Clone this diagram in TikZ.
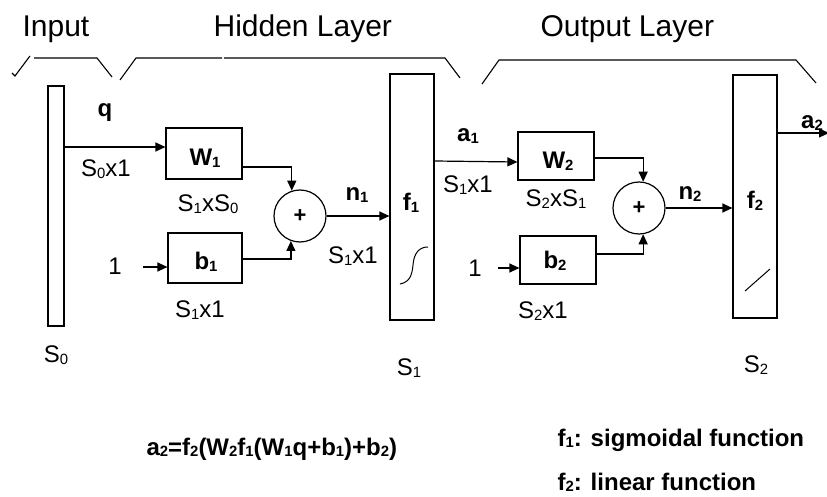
\documentclass[tikz,border=0pt]{standalone}
\usepackage{fontspec}
\usepackage{graphicx}
\setmainfont{Liberation Sans}
\usetikzlibrary{arrows.meta}
\newcommand\sbx[1]{\raisebox{-1.5pt}{\scalebox{0.62}{#1}}}
\begin{document}
\begin{tikzpicture}[x=1pt,y=-1pt,line width=1.2pt,
  bar/.style={draw,inner sep=0pt},
  box/.style={draw,inner sep=0pt},
  sumnode/.style={draw,circle,inner sep=0pt,minimum size=52pt,font=\bfseries\fontsize{22}{26}\selectfont},
  lbl/.style={inner sep=0pt,font=\fontsize{24}{28}\selectfont},
  blbl/.style={inner sep=0pt,font=\bfseries\fontsize{24}{28}\selectfont},
  ttl/.style={inner sep=0pt,anchor=base west,font=\fontsize{30}{36}\selectfont},
  eqn/.style={inner sep=0pt,anchor=base west,font=\bfseries\fontsize{24}{28}\selectfont},
  arr/.style={-{Triangle[length=10pt,width=9pt]}},
  brk/.style={line width=1.1pt}]
\useasboundingbox (0,0) rectangle (827,497);

% titles
\node[ttl] (tin) at (22,37) {Input};
\node[ttl] (thid) at (213,37) {Hidden Layer};
\node[ttl] (tout) at (540,37) {Output Layer};

% brackets
\draw[brk] (12,73) -- (15,76) -- (30,56);
\draw[brk] (34,58) -- (97,58) -- (112,77);
\draw[brk] (120,80) -- (136,58) -- (222,58);
\draw[brk] (224,58) -- (445,58) -- (460,78);
\draw[brk] (482,84) -- (499,60) -- (796,60) -- (816,83);

% bars
\node[bar,minimum width=16pt,minimum height=240pt] (inbar) at (56,206) {};
\node[bar,minimum width=44pt,minimum height=246pt] (f1bar) at (412,197) {};
\node[bar,minimum width=44pt,minimum height=243pt] (f2bar) at (755,196.5) {};

% boxes
\node[box,minimum width=76pt,minimum height=51pt] (W1) at (204,153.5) {};
\node[box,minimum width=74pt,minimum height=50pt] (b1) at (205,258) {};
\node[box,minimum width=76pt,minimum height=48pt] (W2) at (556,156) {};
\node[box,minimum width=76pt,minimum height=48pt] (b2) at (558,260) {};
\node[blbl] (W1t) at (205,158) {W\sbx{1}};
\node[blbl] (b1t) at (206,262) {b\sbx{1}};
\node[blbl] (W2t) at (558,161) {W\sbx{2}};
\node[blbl] (b2t) at (555,261) {b\sbx{2}};

% summing junctions
\node[sumnode] (sum1) at (300,216) {+};
\node[sumnode] (sum2) at (639,208) {+};

% transfer function icons
\draw[line width=1pt] (400,284) .. controls (410,282) and (412,275) .. (413,265)
  .. controls (414,252) and (420,247) .. (428,247);
\draw[line width=1pt] (745,291) -- (770,269);

% labels
\node[blbl] (q) at (105,113) {q};
\node[lbl] (s0x1) at (106,169) {S\sbx{0}x1};
\node[lbl] (s1xs0) at (208,204) {S\sbx{1}xS\sbx{0}};
\node[lbl] (one1) at (115,266) {1};
\node[lbl] (s1x1a) at (200,310) {S\sbx{1}x1};
\node[blbl] (n1) at (357,195) {n\sbx{1}};
\node[lbl] (s1x1b) at (353,256) {S\sbx{1}x1};
\node[blbl] (f1) at (411,203) {f\sbx{1}};
\node[blbl] (a1) at (468,136) {a\sbx{1}};
\node[lbl] (s1x1c) at (468,185) {S\sbx{1}x1};
\node[lbl] (s2xs1) at (556,199) {S\sbx{2}xS\sbx{1}};
\node[lbl] (one2) at (475,268) {1};
\node[lbl] (s2x1) at (543,311) {S\sbx{2}x1};
\node[blbl] (n2) at (690,194) {n\sbx{2}};
\node[blbl] (f2) at (755,201) {f\sbx{2}};
\node[blbl] (a2) at (812,123) {a\sbx{2}};
\node[lbl] (S0) at (56,355) {S\sbx{0}};
\node[lbl] (S1) at (409,368) {S\sbx{1}};
\node[lbl] (S2) at (756,365) {S\sbx{2}};

% connectors
\coordinate (o1s) at (143,267);
\coordinate (o2s) at (498,268);
\coordinate (a2end) at (829,133);
\draw[arr] (inbar.east |- 0,147) -- (W1.west |- 0,147);
\draw[arr] (W1.east |- 0,167) -| (sum1.108);
\draw[arr] (b1.east |- 0,259) -| (sum1.250);
\draw[arr] (o1s) -- (b1.west |- o1s);
\draw[arr] (sum1.east) -- (f1bar.west |- sum1.east);
\draw[arr] (f1bar.east |- 0,161) -- (W2.west |- 0,162);
\draw[arr] (W2.east |- 0,158) -| (sum2.81);
\draw[arr] (b2.east |- 0,254) -| (sum2.279);
\draw[arr] (o2s) -- (b2.west |- o2s);
\draw[arr] (sum2.east) -- (f2bar.west |- sum2.east);
\draw[arr] (f2bar.east |- a2end) -- (a2end);

% bottom text
\node[eqn] (eq) at (146,455) {a\sbx{2}=f\sbx{2}(W\sbx{2}f\sbx{1}(W\sbx{1}q+b\sbx{1})+b\sbx{2})};
\node[eqn] (d1) at (557,446) {f\sbx{1}: sigmoidal function};
\node[eqn] (d2) at (557,490) {f\sbx{2}: linear function};
\end{tikzpicture}
\end{document}
